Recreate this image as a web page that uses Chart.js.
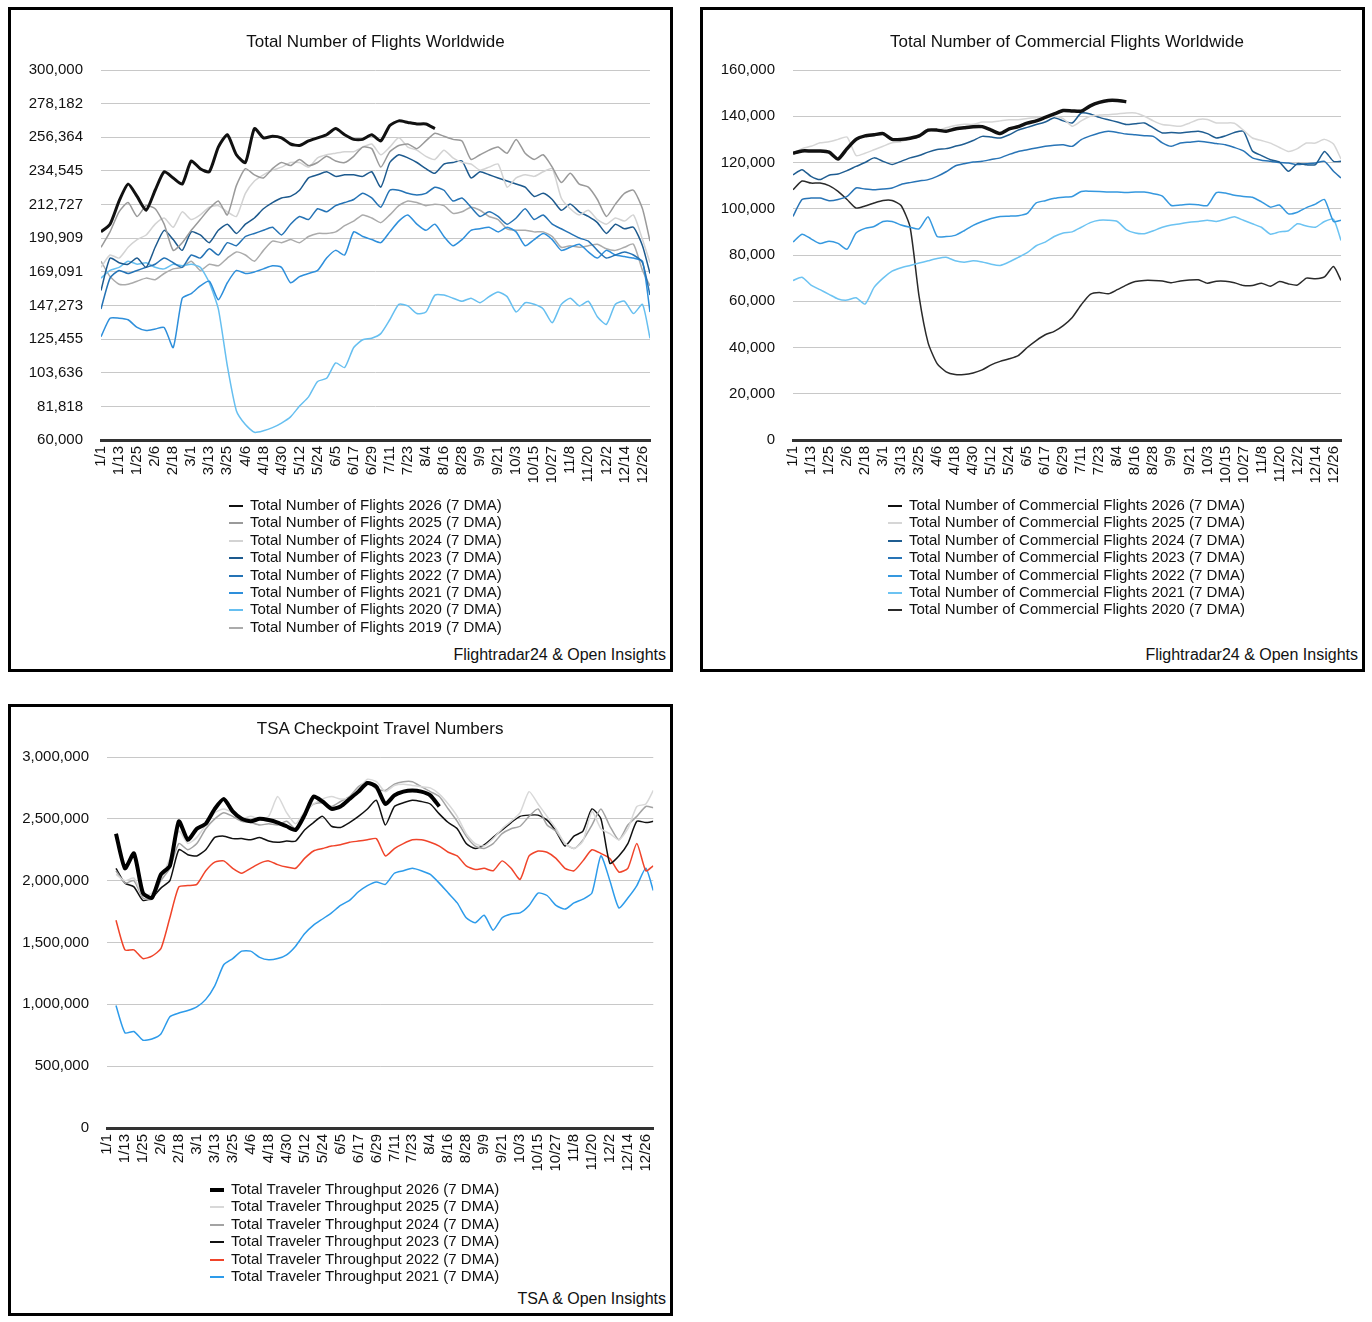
<!DOCTYPE html>
<html>
<head>
<meta charset="utf-8">
<title>Flights and TSA throughput</title>
<script src="https://cdn.jsdelivr.net/npm/chart.js@4.4.1/dist/chart.umd.min.js"></script>
<style>
  body { margin: 0; background: #fff; font-family: "Liberation Sans", Arial, sans-serif; color: #111; }
  .panel { position: absolute; border: 3px solid #000; box-sizing: border-box; background: #fff; }
  .panel canvas { position: absolute; left: 0; top: 0; }
  .title { position: absolute; font-size: 17px; line-height: 20px; white-space: nowrap; transform: translateX(-50%); }
  .legend { position: absolute; font-size: 15px; }
  .legend div { height: 17.4px; line-height: 17.4px; white-space: nowrap; }
  .legend span { display: inline-block; width: 14px; vertical-align: middle; margin-right: 7px; }
  .source { position: absolute; right: 4px; font-size: 16px; line-height: 18px; white-space: nowrap; }
</style>
</head>
<body>

<div class="panel" style="left:8px; top:7px; width:665px; height:665px;">
  <canvas id="c1" width="659" height="490"></canvas>
  <div class="title" id="t1" style="top:22px;">Total Number of Flights Worldwide</div>
  <div class="legend" id="l1" style="left:218px; top:486px;"></div>
  <div class="source" style="top:636px;">Flightradar24 &amp; Open Insights</div>
</div>

<div class="panel" style="left:700px; top:7px; width:665px; height:665px;">
  <canvas id="c2" width="659" height="490"></canvas>
  <div class="title" id="t2" style="top:22px;">Total Number of Commercial Flights Worldwide</div>
  <div class="legend" id="l2" style="left:185px; top:486px;"></div>
  <div class="source" style="top:636px;">Flightradar24 &amp; Open Insights</div>
</div>

<div class="panel" style="left:8px; top:704px; width:665px; height:612px;">
  <canvas id="c3" width="659" height="481"></canvas>
  <div class="title" id="t3" style="top:12px;">TSA Checkpoint Travel Numbers</div>
  <div class="legend" id="l3" style="left:199px; top:473px;"></div>
  <div class="source" style="top:583px;">TSA &amp; Open Insights</div>
</div>

<script>
// day of year (leap-year calendar) for each sample, roughly every 6 days
const days = [0,6,12,18,24,30,36,42,48,54,60,66,72,78,84,90,96,102,108,114,120,126,132,138,144,150,156,162,168,174,
  180,186,192,198,204,210,216,222,228,234,240,246,252,258,264,270,276,282,288,294,300,306,312,318,324,330,336,342,348,354,360,365];

// x axis tick labels, every 12 days
const tickDays = [0,12,24,36,48,60,72,84,96,108,120,132,144,156,168,180,192,204,216,228,240,252,264,276,288,300,312,324,336,348,360];
const tickLabels = ['1/1','1/13','1/25','2/6','2/18','3/1','3/13','3/25','4/6','4/18','4/30','5/12','5/24','6/5','6/17',
  '6/29','7/11','7/23','8/4','8/16','8/28','9/9','9/21','10/3','10/15','10/27','11/8','11/20','12/2','12/14','12/26'];

// --- Chart 1: total flights worldwide (thousands, 7 DMA) ---
const flights2026 = [195,200,215,226,218,209,222,234,230,226,241,236,234,250,258,245,240,262,256,257,256,252,251,254,256,258,262,258,255,255,
  258,254,264,267,266,265,265,262];
const flights2025 = [185,195,208,214,205,212,210,200,183,188,196,203,210,215,206,225,236,232,230,236,240,238,242,238,240,244,241,240,244,250,
  249,237,247,251,252,249,254,259,257,255,254,242,245,248,250,246,255,246,242,245,237,227,233,226,224,216,205,213,220,222,210,189];
const flights2024 = [172,180,178,185,190,193,200,204,198,208,203,206,211,212,208,205,220,228,232,235,237,240,240,237,243,245,246,247,247,250,
  252,245,250,256,250,248,244,242,248,243,240,239,235,237,239,224,230,232,231,234,236,217,210,206,209,203,200,204,202,206,190,175];
const flights2023 = [157,178,175,174,178,172,185,196,190,183,195,193,188,196,200,194,200,204,210,214,217,218,222,230,232,234,231,232,232,231,
  234,224,240,245,243,240,236,233,239,240,241,230,234,232,230,228,226,224,218,220,216,209,213,208,205,201,194,200,197,198,186,168];
const flights2022 = [145,165,170,168,170,172,174,178,175,172,180,178,184,180,188,186,192,194,196,198,193,200,205,203,210,208,212,214,216,220,
  217,211,222,222,220,219,220,224,222,215,217,211,205,208,205,200,204,210,203,206,200,197,194,191,189,183,178,180,182,180,175,154];
const flights2021 = [127,139,139,138,133,131,132,133,120,152,155,160,163,151,162,170,168,169,171,173,172,162,166,168,170,178,183,180,195,192,
  190,188,195,202,206,200,196,200,192,186,190,196,197,198,195,198,195,186,190,194,190,183,185,187,182,178,183,180,179,178,176,143];
const flights2020 = [165,170,172,176,174,175,172,171,174,173,174,172,162,145,108,79,70,65,66,68,71,75,82,88,98,100,110,107,120,125,
  126,129,138,148,147,142,143,154,154,152,150,152,149,153,156,153,143,149,148,145,136,148,152,147,150,140,135,148,150,142,148,126];
const flights2019 = [176,166,161,161,163,165,164,168,171,172,176,170,174,173,178,182,180,176,183,189,188,190,188,192,194,194,195,199,202,206,
  204,201,206,212,215,214,212,213,212,207,208,211,209,205,203,197,196,196,195,195,192,185,186,185,186,187,184,183,185,187,170,160];
const flightsTicks = [60000,81818,103636,125455,147273,169091,190909,212727,234545,256364,278182,300000];

// --- Chart 2: commercial flights worldwide (thousands, 7 DMA) ---
const commercial2026 = [124,125,125,125,124.5,121.5,126,130,131.5,132,132.5,130,130,130.5,131.5,134,134,133.5,134.5,135,
  135.5,135.5,134,132.5,134.5,135.5,137,138,139.5,141,142.5,142.3,142.2,144.5,146,146.8,146.8,146.3];
const commercial2025 = [124,126,127,128.5,129,130,131,123,124,125.5,127,128.5,129,130.5,132,133.5,134,135,136,136.5,
  136.5,137.5,137.5,138,138.5,138.5,139,139.3,139.5,140,139,135.7,138,140,140.5,140.7,141,141.4,141.4,140,
  138,136.4,136,135.7,137,138.6,138.6,137.1,137.1,137,134,130.6,129.5,128.4,126.5,124.8,126,128.4,128.4,130,128,121.5];
const commercial2024 = [114.7,116.9,114,112.6,114.5,115,116.5,118.3,120,122,120.5,119.1,120.5,122,123,124.5,125.6,126,127,128,
  129.5,131.3,131,130.6,132,134,135.2,136.4,137.5,139.3,138,137.1,141.4,141,139.5,138.5,137.5,136.4,136.8,137.1,
  135,132.8,133,132.8,133.2,133.5,132.5,130.6,131.5,133,133.5,125,123,121.2,120.2,116.2,119.5,119,119.1,124.8,120.5,120.5];
const commercial2023 = [96.7,104,104.6,104.6,103.5,104,105.3,109,108.5,108.2,108.5,109,110.5,111.3,112,112.6,114,116,118.5,119.5,
  120.2,120.5,121.3,122,123.5,124.8,125.5,126.3,127,127.5,127.7,127,129.9,131.5,132.8,133.5,133,132.3,132,131.6,
  131.3,128.5,127,128.4,128.8,129.2,128.8,128.2,127.7,126.5,125,122,121,120.5,120,119.8,119.1,119.5,119.8,120.5,116.2,113.3];
const commercial2022 = [85.6,89,87,85,86,85,82.5,89.5,91.5,92.3,94.5,94.5,93,92,91.3,96.5,88,88,88.5,90.5,
  92.8,94.5,95.8,96.7,96.8,97,98,102.5,103.5,104.5,105,105.3,107.5,107.6,107.5,107.2,107.2,107,107.2,107.2,
  106.5,105.5,101.4,101.6,101.9,101.7,101.4,107,106.8,105.8,105.3,105,103,100.7,101.6,97.8,98.5,100.5,102,104,94.5,95];
const commercial2021 = [69,70.4,67,65,63,61,60.5,61.5,58.8,66,70,73,74.5,75.5,76.5,77.5,78.5,79,77.5,76.9,
  77.5,77,76,75.5,77,79,81,84,85.6,88,89.5,90,92,94,95,95,94.5,91,89.5,89.2,
  90.5,92,93,93.5,94.2,94.5,95,94.5,95.5,96.5,95,93.5,92,89,90,90.5,93.5,92.5,92,94.5,95.5,86.3];
const commercial2020 = [108.2,112,111.1,111.1,110,107.5,104,100.3,101.2,102.5,103.6,103.6,101.4,92,62,42,33,29.5,28.3,28.3,
  29,30.3,32.5,34,35.1,36.5,40,43,45.5,47,49.5,53,58.5,63,63.8,63.2,65,67,68.5,69,
  69,68.8,68,68.8,69.2,69.3,67.8,68.7,68.7,68,66.8,66.8,67.8,66.5,68.5,67.5,67,70,69.7,70.5,75,69];
const commercialTicks = [0,20000,40000,60000,80000,100000,120000,140000,160000];

// --- Chart 3: TSA checkpoint throughput (millions, 7 DMA) ---
const tsa2026 = [null,2.38,2.10,2.22,1.90,1.86,2.05,2.12,2.48,2.33,2.42,2.46,2.58,2.66,2.56,2.50,2.48,2.50,2.49,2.47,
  2.44,2.41,2.53,2.68,2.64,2.58,2.60,2.66,2.72,2.79,2.76,2.62,2.69,2.72,2.73,2.72,2.69,2.60];
const tsa2025 = [null,2.05,2.00,2.02,1.88,1.90,2.02,2.18,2.40,2.30,2.35,2.45,2.55,2.58,2.55,2.50,2.52,2.50,2.52,2.68,
  2.55,2.46,2.56,2.62,2.66,2.68,2.66,2.67,2.74,2.82,2.80,2.72,2.77,2.78,2.77,2.76,2.75,2.70,2.62,2.52,
  2.38,2.30,2.28,2.34,2.42,2.48,2.55,2.72,2.62,2.52,2.42,2.30,2.26,2.32,2.56,2.42,2.38,2.33,2.42,2.60,2.62,2.73];
const tsa2024 = [null,2.08,1.98,2.00,1.86,1.85,2.00,2.10,2.30,2.25,2.30,2.42,2.50,2.55,2.52,2.48,2.47,2.45,2.46,2.45,
  2.48,2.42,2.55,2.62,2.63,2.60,2.64,2.68,2.76,2.80,2.74,2.73,2.78,2.80,2.80,2.76,2.72,2.68,2.58,2.48,
  2.36,2.28,2.26,2.30,2.38,2.42,2.44,2.52,2.58,2.45,2.40,2.30,2.26,2.33,2.45,2.58,2.44,2.33,2.45,2.52,2.60,2.59];
const tsa2023 = [null,2.10,1.98,1.95,1.84,1.86,1.94,2.00,2.25,2.21,2.20,2.25,2.35,2.36,2.34,2.34,2.33,2.35,2.32,2.31,
  2.32,2.32,2.41,2.47,2.52,2.44,2.43,2.47,2.52,2.58,2.65,2.45,2.60,2.63,2.65,2.64,2.62,2.54,2.47,2.42,
  2.30,2.26,2.29,2.35,2.41,2.47,2.52,2.53,2.53,2.49,2.40,2.28,2.36,2.40,2.58,2.50,2.14,2.20,2.30,2.48,2.47,2.48];
const tsa2022 = [null,1.68,1.44,1.44,1.37,1.39,1.45,1.70,1.95,1.96,1.97,2.08,2.15,2.16,2.10,2.06,2.10,2.14,2.16,2.13,
  2.11,2.10,2.18,2.24,2.26,2.28,2.29,2.31,2.32,2.33,2.34,2.20,2.26,2.30,2.33,2.33,2.31,2.28,2.23,2.20,
  2.12,2.09,2.10,2.08,2.16,2.10,2.01,2.20,2.24,2.23,2.18,2.10,2.08,2.16,2.25,2.22,2.18,2.07,2.10,2.30,2.08,2.12];
const tsa2021 = [null,0.99,0.77,0.78,0.71,0.72,0.76,0.90,0.93,0.95,0.98,1.04,1.15,1.32,1.37,1.43,1.43,1.38,1.36,1.37,
  1.40,1.47,1.57,1.64,1.69,1.74,1.80,1.84,1.91,1.96,1.99,1.97,2.06,2.08,2.10,2.08,2.05,1.98,1.90,1.82,
  1.70,1.66,1.72,1.60,1.70,1.73,1.74,1.80,1.90,1.88,1.80,1.77,1.82,1.85,1.90,2.20,2.00,1.78,1.86,1.96,2.10,1.92];
const tsaTicks = [0,500000,1000000,1500000,2000000,2500000,3000000];

Chart.defaults.font.family = '"Liberation Sans", Arial, sans-serif';
Chart.defaults.color = '#111';

function toPoints(values, unit) {
  return values.map((v, i) => ({ x: days[i], y: v === null ? null : v * unit }));
}

function makeChart(id, cfg) {
  const chart = new Chart(document.getElementById(id), {
    type: 'line',
    data: {
      datasets: cfg.series.map(s => ({
        label: s.label,
        data: toPoints(s.values, cfg.unit),
        borderColor: s.color,
        borderWidth: s.width,
        pointRadius: 0,
        tension: 0.2,
        fill: false
      }))
    },
    options: {
      responsive: false,
      animation: false,
      layout: { padding: { top: cfg.top, right: cfg.right, left: 0, bottom: 0 } },
      plugins: { legend: { display: false }, tooltip: { enabled: false } },
      scales: {
        x: {
          type: 'linear', min: 0, max: 365,
          afterBuildTicks: s => { s.ticks = tickDays.map(v => ({ value: v })); },
          afterFit: s => { s.height = 60; },
          ticks: {
            autoSkip: false, minRotation: 90, maxRotation: 90, padding: 6,
            font: { size: 15 },
            callback: v => tickLabels[tickDays.indexOf(v)]
          },
          grid: { display: false, drawTicks: false },
          border: { display: true, color: '#333', width: 3 }
        },
        y: {
          min: cfg.ticks[0], max: cfg.ticks[cfg.ticks.length - 1],
          afterBuildTicks: s => { s.ticks = cfg.ticks.map(v => ({ value: v })); },
          afterFit: s => { s.width = cfg.left; },
          ticks: { padding: 18, font: { size: 15 }, callback: v => v.toLocaleString('en-US') },
          grid: { color: '#c8c8c8', lineWidth: 1, drawTicks: false },
          border: { display: false }
        }
      }
    }
  });

  // title centred over the plot area
  const area = chart.chartArea;
  document.getElementById(cfg.titleId).style.left = ((area.left + area.right) / 2) + 'px';

  // legend, one entry per row
  const legend = document.getElementById(cfg.legendId);
  cfg.series.forEach(s => {
    const row = document.createElement('div');
    const mark = document.createElement('span');
    mark.style.height = (s.width >= 4 ? 4 : 2) + 'px';
    mark.style.background = s.color;
    row.appendChild(mark);
    row.appendChild(document.createTextNode(s.label));
    legend.appendChild(row);
  });
  return chart;
}

makeChart('c1', {
  titleId: 't1', legendId: 'l1', unit: 1000, ticks: flightsTicks,
  top: 60, right: 20, left: 90,
  series: [
    { label: 'Total Number of Flights 2026 (7 DMA)', values: flights2026, color: '#111111', width: 3 },
    { label: 'Total Number of Flights 2025 (7 DMA)', values: flights2025, color: '#9a9a9a', width: 1.5 },
    { label: 'Total Number of Flights 2024 (7 DMA)', values: flights2024, color: '#d3d3d3', width: 1.5 },
    { label: 'Total Number of Flights 2023 (7 DMA)', values: flights2023, color: '#1d5a8e', width: 1.5 },
    { label: 'Total Number of Flights 2022 (7 DMA)', values: flights2022, color: '#2573b5', width: 1.5 },
    { label: 'Total Number of Flights 2021 (7 DMA)', values: flights2021, color: '#2e8fdb', width: 1.5 },
    { label: 'Total Number of Flights 2020 (7 DMA)', values: flights2020, color: '#66bff0', width: 1.5 },
    { label: 'Total Number of Flights 2019 (7 DMA)', values: flights2019, color: '#ababab', width: 1.5 }
  ]
});

makeChart('c2', {
  titleId: 't2', legendId: 'l2', unit: 1000, ticks: commercialTicks,
  top: 60, right: 21, left: 90,
  series: [
    { label: 'Total Number of Commercial Flights 2026 (7 DMA)', values: commercial2026, color: '#111111', width: 3.5 },
    { label: 'Total Number of Commercial Flights 2025 (7 DMA)', values: commercial2025, color: '#d6d6d6', width: 1.5 },
    { label: 'Total Number of Commercial Flights 2024 (7 DMA)', values: commercial2024, color: '#1f5d91', width: 1.5 },
    { label: 'Total Number of Commercial Flights 2023 (7 DMA)', values: commercial2023, color: '#2874b6', width: 1.5 },
    { label: 'Total Number of Commercial Flights 2022 (7 DMA)', values: commercial2022, color: '#3598df', width: 1.5 },
    { label: 'Total Number of Commercial Flights 2021 (7 DMA)', values: commercial2021, color: '#6cc3f2', width: 1.5 },
    { label: 'Total Number of Commercial Flights 2020 (7 DMA)', values: commercial2020, color: '#2a2a2a', width: 1.5 }
  ]
});

makeChart('c3', {
  titleId: 't3', legendId: 'l3', unit: 1000000, ticks: tsaTicks,
  top: 50, right: 14, left: 96,
  series: [
    { label: 'Total Traveler Throughput 2026 (7 DMA)', values: tsa2026, color: '#000000', width: 4 },
    { label: 'Total Traveler Throughput 2025 (7 DMA)', values: tsa2025, color: '#d8d8d8', width: 1.5 },
    { label: 'Total Traveler Throughput 2024 (7 DMA)', values: tsa2024, color: '#a3a3a3', width: 1.5 },
    { label: 'Total Traveler Throughput 2023 (7 DMA)', values: tsa2023, color: '#111111', width: 1.5 },
    { label: 'Total Traveler Throughput 2022 (7 DMA)', values: tsa2022, color: '#f0442a', width: 1.5 },
    { label: 'Total Traveler Throughput 2021 (7 DMA)', values: tsa2021, color: '#2d9bea', width: 1.5 }
  ]
});
</script>
</body>
</html>
